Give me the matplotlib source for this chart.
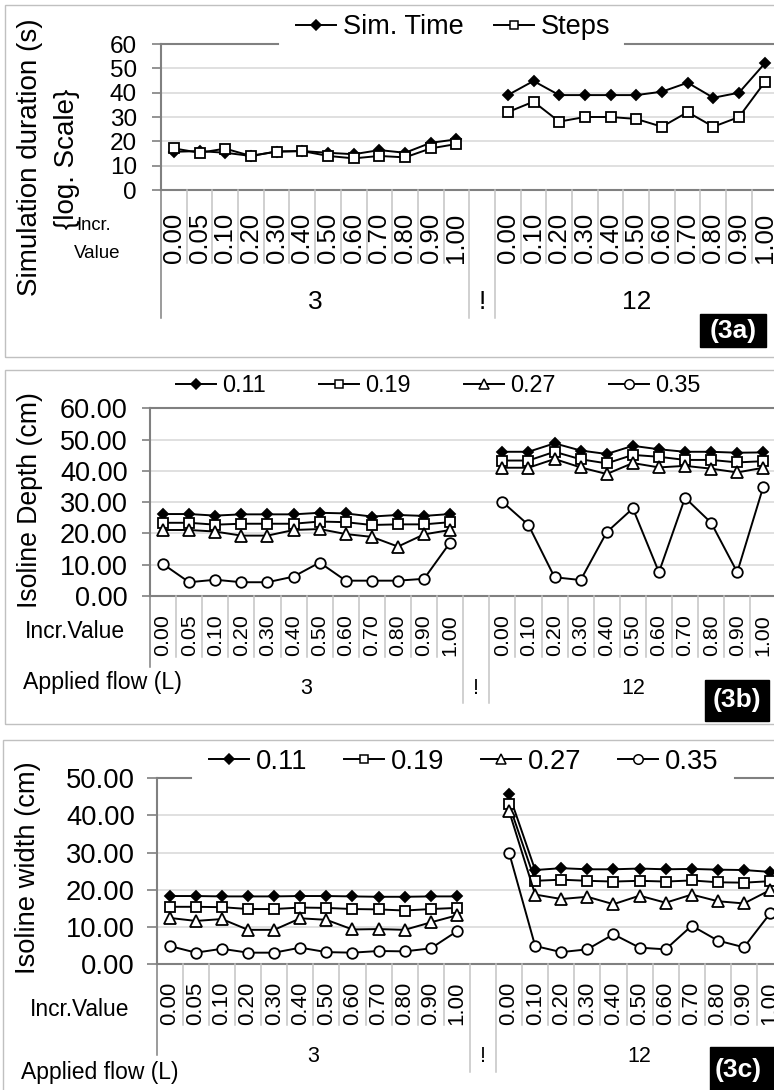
import numpy as np
import matplotlib
matplotlib.use("Agg")
import matplotlib.pyplot as plt
from matplotlib.lines import Line2D
from matplotlib.patches import Rectangle
from matplotlib.transforms import blended_transform_factory

plt.rcParams["font.family"] = ["Liberation Sans", "DejaVu Sans"]

# ---------------------------------------------------------------- data
incr_q3 = ["0.00", "0.05", "0.10", "0.20", "0.30", "0.40",
           "0.50", "0.60", "0.70", "0.80", "0.90", "1.00"]
incr_q12 = ["0.00", "0.10", "0.20", "0.30", "0.40", "0.50",
            "0.60", "0.70", "0.80", "0.90", "1.00"]
flow_groups = ["3", "!", "12"]

# (3a) simulation duration (s)
sim_time_q3 = [15.7, 16.0, 15.3, 14.0, 15.8, 16.0, 15.3, 14.7, 16.4, 15.3, 19.4, 20.8]
sim_time_q12 = [39.0, 44.8, 39.0, 39.0, 39.0, 39.0, 40.4, 44.1, 37.9, 40.0, 52.0]
steps_q3 = [17.1, 15.3, 17.0, 14.0, 15.8, 16.0, 14.0, 13.0, 14.0, 13.4, 17.1, 18.9]
steps_q12 = [32.0, 36.3, 28.1, 30.0, 30.0, 29.2, 26.0, 32.0, 26.0, 30.0, 44.3]

# (3b) isoline depth (cm)
depth_011_q3 = [26.2, 26.2, 25.7, 26.1, 26.1, 26.1, 26.6, 26.4, 25.4, 25.9, 25.6, 26.2]
depth_019_q3 = [23.4, 23.4, 22.8, 23.1, 23.1, 23.1, 23.8, 23.6, 22.7, 22.9, 22.9, 23.6]
depth_027_q3 = [21.1, 21.1, 20.6, 19.3, 19.3, 21.1, 21.4, 19.8, 18.9, 15.8, 19.7, 21.1]
depth_035_q3 = [10.2, 4.4, 5.2, 4.4, 4.4, 6.2, 10.7, 4.9, 4.9, 4.9, 5.5, 17.1]
depth_011_q12 = [46.1, 46.1, 48.8, 46.5, 45.4, 48.0, 46.9, 46.1, 46.1, 45.8, 45.9]
depth_019_q12 = [43.3, 43.3, 46.1, 43.7, 42.4, 45.1, 44.5, 43.5, 43.5, 42.7, 43.1]
depth_027_q12 = [41.0, 41.0, 43.8, 41.1, 39.0, 42.5, 41.1, 41.6, 40.7, 39.5, 41.0]
depth_035_q12 = [30.1, 22.7, 6.0, 5.1, 20.4, 28.0, 7.6, 31.4, 23.4, 7.6, 35.0]

# (3c) isoline width (cm)
width_011_q3 = [18.3, 18.3, 18.2, 18.2, 18.2, 18.3, 18.3, 18.2, 18.1, 18.1, 18.2, 18.2]
width_019_q3 = [15.4, 15.4, 15.3, 14.8, 14.8, 15.2, 15.1, 14.8, 14.7, 14.4, 14.8, 15.1]
width_027_q3 = [12.4, 11.6, 12.1, 9.2, 9.2, 12.3, 11.9, 9.3, 9.4, 9.2, 11.2, 13.1]
width_035_q3 = [4.85, 3.05, 4.1, 3.05, 3.05, 4.4, 3.2, 3.05, 3.5, 3.4, 4.2, 8.8]
width_011_q12 = [45.7, 25.3, 25.8, 25.5, 25.5, 25.7, 25.5, 25.6, 25.4, 25.3, 24.8]
width_019_q12 = [43.0, 22.4, 22.7, 22.4, 22.2, 22.4, 22.2, 22.5, 22.0, 21.9, 22.3]
width_027_q12 = [41.2, 18.7, 17.5, 18.1, 16.1, 18.4, 16.5, 18.7, 16.9, 16.3, 19.9]
width_035_q12 = [30.0, 4.85, 3.2, 3.95, 8.0, 4.4, 3.95, 10.3, 6.3, 4.5, 13.6]

legend_a = ["Sim. Time", "Steps"]
legend_bc = ["0.11", "0.19", "0.27", "0.35"]

# ---------------------------------------------------------------- figure
W, H, DPI = 774, 1090, 100
fig = plt.figure(figsize=(W / DPI, H / DPI), dpi=DPI)
fig.patch.set_facecolor("white")

SPINE = "#808080"
GRID = "#dadada"
SEP = "#c4c4c4"
FRAME = "#c0c0c0"


def fx(px):
    return px / W


def fy(py):
    return 1 - py / H


cat_labels = incr_q3 + [""] + incr_q12
x = np.arange(len(cat_labels))
gap_idx = len(incr_q3)


def join(left, right):
    return np.array(list(left) + [np.nan] + list(right), dtype=float)


STYLES = [
    dict(marker="D", ms=5.4, mfc="black", mec="black"),
    dict(marker="s", ms=7.0, mfc="white", mec="black"),
    dict(marker="^", ms=8.0, mfc="white", mec="black"),
    dict(marker="o", ms=7.6, mfc="white", mec="black"),
]


def panel(box, ylim, yticks, fmt, series, names, tick_fs, tick_len, tick_pad,
          top_segments, legend_xy, legend_fs, col_space, cat_fs, cat_y,
          sep_short, sep_long, left_end, group_y, group_fs, frame, tag,
          tag_box, tag_xy):
    l, t, r, b = box
    ax = fig.add_axes([fx(l), fy(b), (r - l) / W, (b - t) / H])
    ax.set_facecolor("none")
    ax.set_xlim(-0.5, len(cat_labels) - 0.5)
    ax.set_ylim(*ylim)

    for v in yticks[1:-1]:
        ax.axhline(v, color=GRID, lw=1.2, zorder=0)

    for vals, st, name in zip(series, STYLES, names):
        ax.plot(x, vals, color="black", lw=1.4, mew=1.3, label=name,
                zorder=3, clip_on=False, **st)

    for side in ("top", "right"):
        ax.spines[side].set_visible(False)
    for side in ("left", "bottom"):
        ax.spines[side].set_color(SPINE)
        ax.spines[side].set_linewidth(1.5)

    ax.set_yticks(yticks)
    ax.set_yticklabels([fmt.format(v) for v in yticks], fontsize=tick_fs)
    ax.tick_params(axis="y", direction="out", length=tick_len, width=1.2,
                   color=SPINE, pad=tick_pad)
    ax.set_xticks([])

    # top border of the plot area (partly left open for the legend)
    for x0, x1 in top_segments:
        fig.add_artist(Line2D([fx(x0), fx(x1)], [fy(t), fy(t)], color=SPINE,
                              lw=1.5, transform=fig.transFigure))

    # legend
    handles = [Line2D([], [], color="black", lw=1.4, mew=1.1, **st)
               for st in STYLES[:len(names)]]
    ax.legend(handles, names, loc="center", ncol=len(names),
              bbox_to_anchor=(fx(legend_xy[0]), fy(legend_xy[1])),
              bbox_transform=fig.transFigure, frameon=False,
              fontsize=legend_fs, handlelength=40 / (legend_fs / 0.72),
              handletextpad=0.25, columnspacing=col_space, borderpad=0.2,
              markerscale=0.9)

    # multi-level category axis
    tr = blended_transform_factory(ax.transData, fig.transFigure)
    for k in range(len(cat_labels)):
        edge = k - 0.5
        if k == 0:
            y_end, col = left_end, SPINE
        elif k in (gap_idx, gap_idx + 1):
            y_end, col = sep_long, SEP
        else:
            y_end, col = sep_short, SEP
        fig.add_artist(Line2D([edge, edge], [fy(b), fy(y_end)], color=col,
                              lw=1.1, transform=tr))
        if cat_labels[k]:
            fig.text(k, fy(cat_y), cat_labels[k], transform=tr, rotation=90,
                     ha="center", va="center", fontsize=cat_fs)
    centres = [(gap_idx - 1) / 2, gap_idx, (gap_idx + 1 + len(cat_labels) - 1) / 2]
    for cx, g in zip(centres, flow_groups):
        fig.text(cx, fy(group_y), g, transform=tr, ha="center", va="center",
                 fontsize=group_fs)

    # panel frame and tag
    fl, ft, fb = frame
    fig.add_artist(Rectangle((fx(fl), fy(fb)), fx(W + 20 - fl), (fb - ft) / H,
                             fill=False, ec=FRAME, lw=1.0,
                             transform=fig.transFigure, zorder=10))
    tl, tt, tr_, tb = tag_box
    fig.add_artist(Rectangle((fx(tl), fy(tb)), fx(tr_ - tl), (tb - tt) / H,
                             fc="black", ec="black", transform=fig.transFigure,
                             zorder=11))
    fig.text(fx(tag_xy[0]), fy(tag_xy[1]), tag, color="white",
             fontsize=19, fontweight="bold", ha="center", va="center",
             zorder=12)
    return ax


# ---- (3a)
panel(box=(161, 44, 161 + 24 * 25.69, 190), ylim=(0, 60),
      yticks=list(range(0, 61, 10)), fmt="{:.0f}",
      series=[join(sim_time_q3, sim_time_q12), join(steps_q3, steps_q12)],
      names=legend_a, tick_fs=17.5, tick_len=6.7, tick_pad=10.5,
      top_segments=[(161, 278), (625, 790)], legend_xy=(453, 27),
      legend_fs=19.5, col_space=1.1, cat_fs=18.5, cat_y=238,
      sep_short=263, sep_long=318, left_end=318, group_y=302, group_fs=19,
      frame=(5, 5, 357), tag="(3a)", tag_box=(700, 314, 766, 347),
      tag_xy=(733, 331))
fig.text(fx(30), fy(157), "Simulation duration (s)", rotation=90,
         ha="center", va="center", fontsize=20)
fig.text(fx(67), fy(159), "{log. Scale}", rotation=90,
         ha="center", va="center", fontsize=20)
fig.text(fx(76), fy(225), "Incr.", ha="left", va="center", fontsize=13.2)
fig.text(fx(74), fy(253), "Value", ha="left", va="center", fontsize=13.5)

# ---- (3b)
panel(box=(150, 408.3, 150 + 24 * 26.1, 596), ylim=(0, 60),
      yticks=list(range(0, 61, 10)), fmt="{:.2f}",
      series=[join(depth_011_q3, depth_011_q12), join(depth_019_q3, depth_019_q12),
              join(depth_027_q3, depth_027_q12), join(depth_035_q3, depth_035_q12)],
      names=legend_bc, tick_fs=19.5, tick_len=6.0, tick_pad=10,
      top_segments=[(150, 790)], legend_xy=(438, 386),
      legend_fs=16.8, col_space=2.3, cat_fs=15.4, cat_y=635.5,
      sep_short=657, sep_long=703, left_end=667, group_y=688, group_fs=15.5,
      frame=(5, 370, 724), tag="(3b)", tag_box=(705, 680, 769, 721),
      tag_xy=(737, 700.5))
fig.text(fx(30), fy(500), "Isoline Depth (cm)", rotation=90,
         ha="center", va="center", fontsize=19.2)
fig.text(fx(25), fy(632), "Incr.Value", ha="left", va="center", fontsize=16.5)
fig.text(fx(23), fy(683), "Applied flow (L)", ha="left", va="center", fontsize=16.7)

# ---- (3c)
panel(box=(156.7, 778.3, 156.7 + 24 * 26.1, 964), ylim=(0, 50),
      yticks=list(range(0, 51, 10)), fmt="{:.2f}",
      series=[join(width_011_q3, width_011_q12), join(width_019_q3, width_019_q12),
              join(width_027_q3, width_027_q12), join(width_035_q3, width_035_q12)],
      names=legend_bc, tick_fs=19.7, tick_len=7.2, tick_pad=8.5,
      top_segments=[(156.7, 191), (735, 800)], legend_xy=(464, 762),
      legend_fs=19.7, col_space=1.34, cat_fs=16, cat_y=1003,
      sep_short=1025, sep_long=1072, left_end=1055, group_y=1056, group_fs=15.5,
      frame=(3, 740, 1100), tag="(3c)", tag_box=(710, 1047, 790, 1095),
      tag_xy=(738, 1070))
fig.text(fx(28), fy(868), "Isoline width (cm)", rotation=90,
         ha="center", va="center", fontsize=19.7)
fig.text(fx(30), fy(1010), "Incr.Value", ha="left", va="center", fontsize=16.4)
fig.text(fx(21), fy(1072), "Applied flow (L)", ha="left", va="center", fontsize=16.5)

fig.savefig("out.png", dpi=DPI)
